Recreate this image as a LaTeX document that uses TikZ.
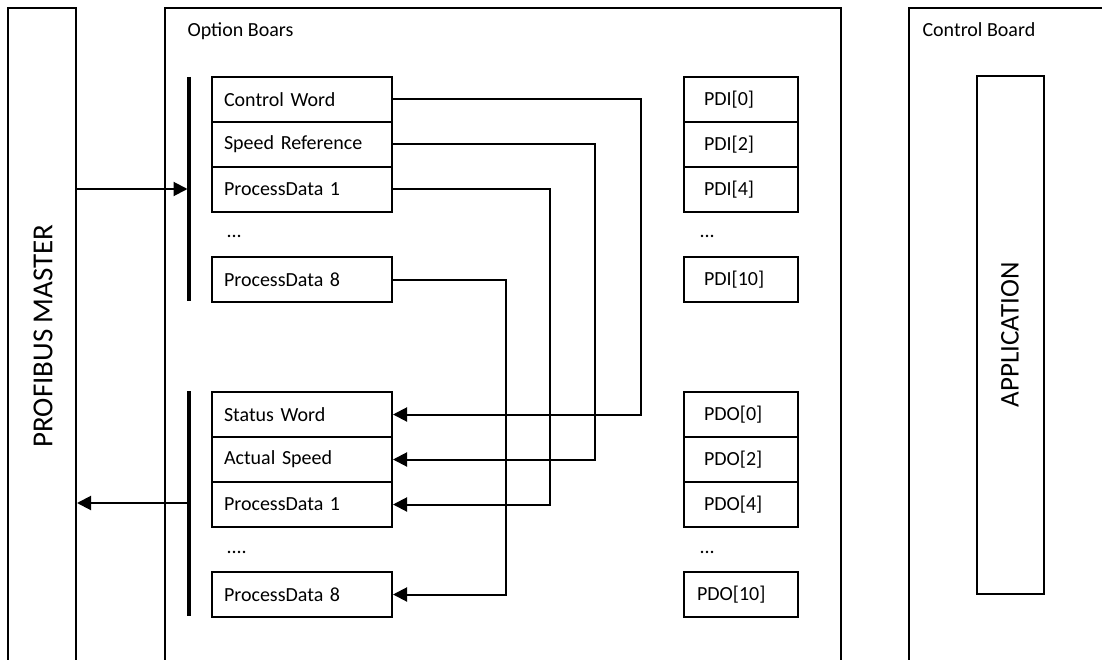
\documentclass[tikz,border=0pt]{standalone}
\usepackage{fontspec}
\setmainfont{Carlito}
\usetikzlibrary{arrows.meta}
\begin{document}
\begin{tikzpicture}[x=1pt,y=-1pt,
  font=\fontsize{20}{24}\selectfont,
  cell/.style={draw, line width=2pt, minimum height=45pt, text width=156pt,
    inner xsep=12pt, inner ysep=0pt, align=left, anchor=north west},
  pcell/.style={cell, text width=74pt, inner xsep=20pt},
  dots/.style={anchor=west},
  conn/.style={line width=2pt},
  arr/.style={conn, -{Triangle[length=14pt,width=14pt]}},
  bus/.style={line width=3.5pt},
  frame/.style={line width=1.8pt},
  big/.style={rotate=90}]
\useasboundingbox (0,0) rectangle (1102,660);

% outer frames (open at the bottom)
\draw[frame] (8,664) -- (8,8) -- (76,8) -- (76,664);
\draw[frame] (165,664) -- (165,8) -- (841,8) -- (841,664);
\draw[frame] (909,664) -- (909,8) -- (1110,8);

\node[big, font=\fontsize{29}{34}\selectfont] (master) at (43,336) {PROFIBUS MASTER};
\node[anchor=base west] (optlbl) at (184,37) {Option Boars};
\node[anchor=base west] (ctllbl) at (919,37) {Control Board};

\node[draw, line width=2pt, rotate=90, minimum width=518pt, minimum height=67pt,
  font=\fontsize{27}{32}\selectfont] (app) at (1010,335) {APPLICATION};

% input group
\node[cell] (cw) at (211,76) {Control Word};
\node[cell] (sr) at (211,121) {Speed Reference};
\node[cell] (pd1) at (211,166) {ProcessData 1};
\node[dots] (d1) at (223,236) {...};
\node[cell] (pd8) at (211,256) {ProcessData 8};

% output group
\node[cell] (sw) at (211,391) {Status Word};
\node[cell] (as) at (211,436) {Actual Speed};
\node[cell] (pd1b) at (211,481) {ProcessData 1};
\node[dots] (d2) at (223,552) {....};
\node[cell] (pd8b) at (211,571) {ProcessData 8};

% PDI
\node[pcell] (pdi0) at (683,76) {PDI[0]};
\node[pcell] (pdi2) at (683,121) {PDI[2]};
\node[pcell] (pdi4) at (683,166) {PDI[4]};
\node[dots] (d3) at (696,236) {...};
\node[pcell] (pdi10) at (683,256) {PDI[10]};

% PDO
\node[pcell] (pdo0) at (683,391) {PDO[0]};
\node[pcell] (pdo2) at (683,436) {PDO[2]};
\node[pcell] (pdo4) at (683,481) {PDO[4]};
\node[dots] (d4) at (696,552) {...};
\node[pcell, inner xsep=13pt, text width=88pt] (pdo10) at (683,571) {PDO[10]};

% buses
\coordinate (b1t) at (189,77);
\coordinate (b1b) at (189,301);
\coordinate (b2t) at (189,391);
\coordinate (b2b) at (189,616);
\draw[bus] (b1t) -- (b1b);
\draw[bus] (b2t) -- (b2b);

% master <-> buses
\coordinate (min) at (76,189);
\coordinate (bin) at (187.5,189);
\draw[arr] (min) -- (bin);
\coordinate (bout) at (189,503);
\coordinate (mout) at (77,503);
\draw[arr] (bout) -- (mout);

% loop-back connectors
\draw[arr] (cw.east) -- ++(248,0) |- (sw.east);
\draw[arr] (sr.east) -- ++(202,0) |- (as.east);
\draw[arr] (pd1.east) -- ++(157,0) |- (pd1b.east);
\draw[arr] (pd8.east) -- ++(113,0) |- (pd8b.east);
\end{tikzpicture}
\end{document}
